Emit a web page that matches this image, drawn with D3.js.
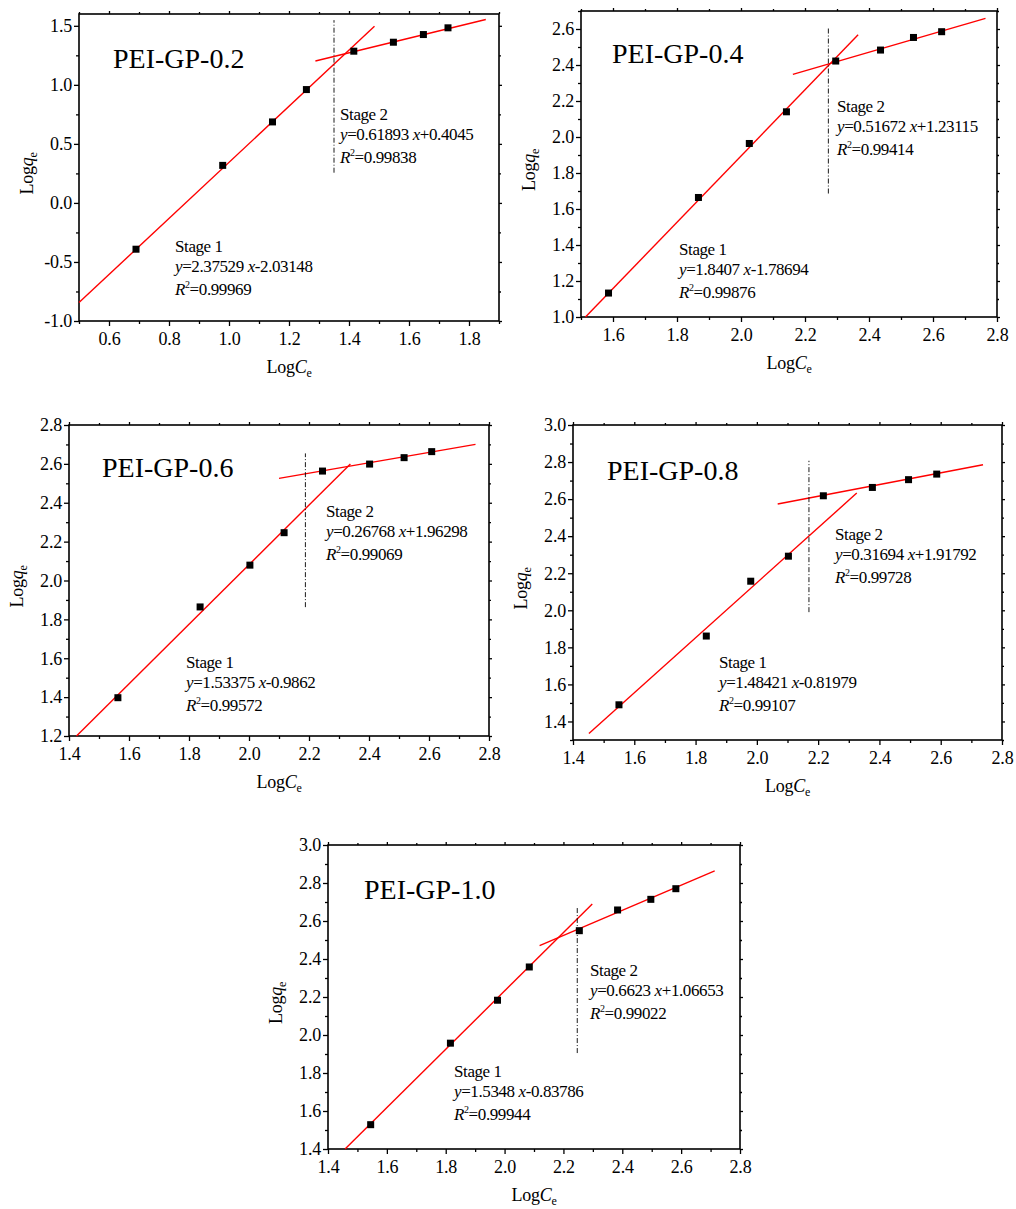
<!DOCTYPE html>
<html>
<head>
<meta charset="utf-8">
<script src="https://cdn.jsdelivr.net/npm/d3@7"></script>
<style>
    body { margin: 0; background: #fff; }
    svg text { font-family: "Liberation Serif", "Times New Roman", serif; fill: #000; }
</style>
</head>
<body>
<svg id="chart" width="1016" height="1209"></svg>
<script>
// ── Data ───────────────────────────────────────────────────────────────────────

const panelNames = ["PEI-GP-0.2", "PEI-GP-0.4", "PEI-GP-0.6", "PEI-GP-0.8", "PEI-GP-1.0"];

const logCe = [
    [0.690, 0.979, 1.145, 1.258, 1.416, 1.548, 1.648, 1.730],
    [1.586, 1.867, 2.026, 2.142, 2.296, 2.436, 2.539, 2.627],
    [1.563, 1.837, 2.003, 2.117, 2.245, 2.402, 2.517, 2.609],
    [1.550, 1.835, 1.980, 2.103, 2.217, 2.377, 2.495, 2.587],
    [1.545, 1.816, 1.976, 2.084, 2.254, 2.384, 2.497, 2.582]
];
const logQe = [
    [-0.392, 0.318, 0.686, 0.960, 1.285, 1.361, 1.426, 1.483],
    [1.133, 1.664, 1.964, 2.140, 2.422, 2.483, 2.553, 2.585],
    [1.397, 1.864, 2.079, 2.246, 2.563, 2.599, 2.632, 2.663],
    [1.490, 1.861, 2.157, 2.292, 2.618, 2.663, 2.705, 2.735],
    [1.528, 1.957, 2.183, 2.358, 2.549, 2.658, 2.714, 2.770]
];

const xDomains = [[0.5, 1.9], [1.5, 2.8], [1.4, 2.8], [1.4, 2.8], [1.4, 2.8]];
const yDomains = [[-1.0, 1.6], [1.0, 2.7], [1.2, 2.8], [1.3, 3.0], [1.4, 3.0]];

const xTicks = [
    [0.6, 0.8, 1.0, 1.2, 1.4, 1.6, 1.8],
    [1.6, 1.8, 2.0, 2.2, 2.4, 2.6, 2.8],
    [1.4, 1.6, 1.8, 2.0, 2.2, 2.4, 2.6, 2.8],
    [1.4, 1.6, 1.8, 2.0, 2.2, 2.4, 2.6, 2.8],
    [1.4, 1.6, 1.8, 2.0, 2.2, 2.4, 2.6, 2.8]
];
const yTicks = [
    [-1.0, -0.5, 0.0, 0.5, 1.0, 1.5],
    [1.0, 1.2, 1.4, 1.6, 1.8, 2.0, 2.2, 2.4, 2.6],
    [1.2, 1.4, 1.6, 1.8, 2.0, 2.2, 2.4, 2.6, 2.8],
    [1.4, 1.6, 1.8, 2.0, 2.2, 2.4, 2.6, 2.8, 3.0],
    [1.4, 1.6, 1.8, 2.0, 2.2, 2.4, 2.6, 2.8, 3.0]
];

const stage1Slope = [2.37529, 1.8407, 1.53375, 1.48421, 1.5348];
const stage1Icpt  = [-2.03148, -1.78694, -0.9862, -0.81979, -0.83786];
const stage1R2    = ["0.99969", "0.99876", "0.99572", "0.99107", "0.99944"];
const stage1Span  = [[0.5, 1.485], [1.514, 2.366], [1.425, 2.338], [1.452, 2.326], [1.458, 2.298]];

const stage2Slope = [0.61893, 0.51672, 0.26768, 0.31694, 0.6623];
const stage2Icpt  = [0.4045, 1.23115, 1.96298, 1.91792, 1.06653];
const stage2R2    = ["0.99838", "0.99414", "0.99069", "0.99728", "0.99022"];
const stage2Span  = [[1.288, 1.856], [2.162, 2.764], [2.10, 2.755], [2.068, 2.738], [2.119, 2.714]];

const dividerX = [1.35, 2.273, 2.188, 2.170, 2.247];
const dividerY = [[0.256, 1.548], [1.686, 2.61], [1.863, 2.654], [1.99, 2.807], [1.905, 2.672]];

// ── Layout ─────────────────────────────────────────────────────────────────────

const frames = [
    { l: 79,  t: 14,  r: 499,  b: 321 },
    { l: 581, t: 11,  r: 997,  b: 317 },
    { l: 69,  t: 425, r: 489,  b: 736 },
    { l: 573, t: 425, r: 1002, b: 740 },
    { l: 328, t: 845, r: 740,  b: 1149 }
];
const titlePos  = [[113, 68], [612, 63], [102, 477], [607, 480], [364, 899]];
const stage1Pos = [[175, 252], [679, 255], [186, 668], [719, 668], [454, 1077]];
const stage2Pos = [[340, 120], [837, 112], [326, 517], [835, 540], [590, 976]];

const svg = d3.select("#chart");

function minorTicks(domain, majors) {
    const step = (majors[1] - majors[0]) / 2;
    const start = majors[0] - Math.floor((majors[0] - domain[0]) / step + 1e-6) * step;
    return d3.range(start, domain[1] + 1e-6, step)
        .map(v => Math.round(v * 1000) / 1000)
        .filter(v => !majors.some(m => Math.abs(m - v) < 1e-6));
}

function fmtSigned(v) { return (v >= 0 ? "+" : "") + v; }

function addEquation(g, pos, slope, icpt, r2, stageNo) {
    const t = g.append("text")
        .attr("x", pos[0]).attr("y", pos[1])
        .attr("font-size", 17)
        .attr("letter-spacing", -0.4);
    t.append("tspan").attr("x", pos[0]).attr("y", pos[1]).text("Stage " + stageNo);
    const l2 = t.append("tspan").attr("x", pos[0]).attr("y", pos[1] + 20);
    l2.append("tspan").attr("font-style", "italic").text("y");
    l2.append("tspan").text("=" + slope + " ");
    l2.append("tspan").attr("font-style", "italic").text("x");
    l2.append("tspan").text(fmtSigned(icpt));
    const l3 = t.append("tspan").attr("x", pos[0]).attr("y", pos[1] + 43);
    l3.append("tspan").attr("font-style", "italic").text("R");
    l3.append("tspan").attr("font-size", 10).attr("dy", -7).text("2");
    l3.append("tspan").attr("dy", 7).text("=" + r2);
}

function drawPanel(i) {
    const f = frames[i];
    const g = svg.append("g");

    const x = d3.scaleLinear().domain(xDomains[i]).range([f.l, f.r]);
    const y = d3.scaleLinear().domain(yDomains[i]).range([f.b, f.t]);
    const fmt = d => d.toFixed(1);

    const xMinor = minorTicks(xDomains[i], xTicks[i]);
    const yMinor = minorTicks(yDomains[i], yTicks[i]);

    // axes: bottom / left with labels, top / right mirrored
    const axes = [
        [d3.axisBottom(x).tickValues(xTicks[i]).tickSize(5).tickPadding(6).tickFormat(fmt), `translate(0,${f.b})`, true],
        [d3.axisBottom(x).tickValues(xMinor).tickSize(3).tickFormat(""), `translate(0,${f.b})`, false],
        [d3.axisLeft(y).tickValues(yTicks[i]).tickSize(5).tickPadding(2).tickFormat(fmt), `translate(${f.l},0)`, true],
        [d3.axisLeft(y).tickValues(yMinor).tickSize(3).tickFormat(""), `translate(${f.l},0)`, false],
        [d3.axisTop(x).tickValues(xTicks[i]).tickSize(3).tickFormat(""), `translate(0,${f.t})`, false],
        [d3.axisTop(x).tickValues(xMinor).tickSize(2).tickFormat(""), `translate(0,${f.t})`, false],
        [d3.axisRight(y).tickValues(yTicks[i]).tickSize(3).tickFormat(""), `translate(${f.r},0)`, false],
        [d3.axisRight(y).tickValues(yMinor).tickSize(2).tickFormat(""), `translate(${f.r},0)`, false]
    ];
    axes.forEach(([ax, tr, labelled]) => {
        const a = g.append("g").attr("transform", tr).call(ax);
        a.select(".domain").remove();
        a.selectAll(".tick line").attr("stroke", "#000").attr("stroke-width", 1.3);
        if (labelled) {
            a.selectAll(".tick text")
                .attr("font-family", "Liberation Serif")
                .attr("font-size", 18)
                .attr("letter-spacing", -0.2)
                .attr("fill", "#000");
        }
    });

    g.append("rect")
        .attr("x", f.l).attr("y", f.t)
        .attr("width", f.r - f.l).attr("height", f.b - f.t)
        .attr("fill", "none").attr("stroke", "#000").attr("stroke-width", 1.6);

    // fitted lines
    const fits = [
        [stage1Slope[i], stage1Icpt[i], stage1Span[i]],
        [stage2Slope[i], stage2Icpt[i], stage2Span[i]]
    ];
    const line = d3.line().x(d => x(d[0])).y(d => y(d[1]));
    fits.forEach(([k, b, span]) => {
        g.append("path")
            .attr("d", line(span.map(v => [v, k * v + b])))
            .attr("fill", "none").attr("stroke", "#ff0000").attr("stroke-width", 1.4);
    });

    // stage divider
    g.append("line")
        .attr("x1", x(dividerX[i])).attr("x2", x(dividerX[i]))
        .attr("y1", y(dividerY[i][0])).attr("y2", y(dividerY[i][1]))
        .attr("stroke", "#000").attr("stroke-width", 0.9)
        .attr("stroke-dasharray", "5,2,1,2");

    // markers
    const ms = 7;
    g.selectAll("rect.pt")
        .data(d3.zip(logCe[i], logQe[i]))
        .enter()
        .append("rect")
        .attr("class", "pt")
        .attr("x", d => x(d[0]) - ms / 2).attr("y", d => y(d[1]) - ms / 2)
        .attr("width", ms).attr("height", ms)
        .attr("fill", "#000");

    // texts
    g.append("text")
        .attr("x", titlePos[i][0]).attr("y", titlePos[i][1])
        .attr("font-size", 28)
        .text(panelNames[i]);

    addEquation(g, stage1Pos[i], stage1Slope[i], stage1Icpt[i], stage1R2[i], 1);
    addEquation(g, stage2Pos[i], stage2Slope[i], stage2Icpt[i], stage2R2[i], 2);

    // axis titles
    const xt = g.append("text")
        .attr("x", (f.l + f.r) / 2).attr("y", f.b + 52)
        .attr("text-anchor", "middle").attr("font-size", 18).attr("letter-spacing", -0.3);
    xt.append("tspan").text("Log");
    xt.append("tspan").attr("font-style", "italic").text("C");
    xt.append("tspan").attr("font-size", 12).attr("dy", 4).text("e");

    const yt = g.append("text")
        .attr("transform", `translate(${f.l - 46},${(f.t + f.b) / 2 + 6}) rotate(-90)`)
        .attr("text-anchor", "middle").attr("font-size", 18).attr("letter-spacing", -0.3);
    yt.append("tspan").text("Log");
    yt.append("tspan").attr("font-style", "italic").text("q");
    yt.append("tspan").attr("font-size", 12).attr("dy", 4).text("e");
}

panelNames.forEach((_, i) => drawPanel(i));
</script>
</body>
</html>
